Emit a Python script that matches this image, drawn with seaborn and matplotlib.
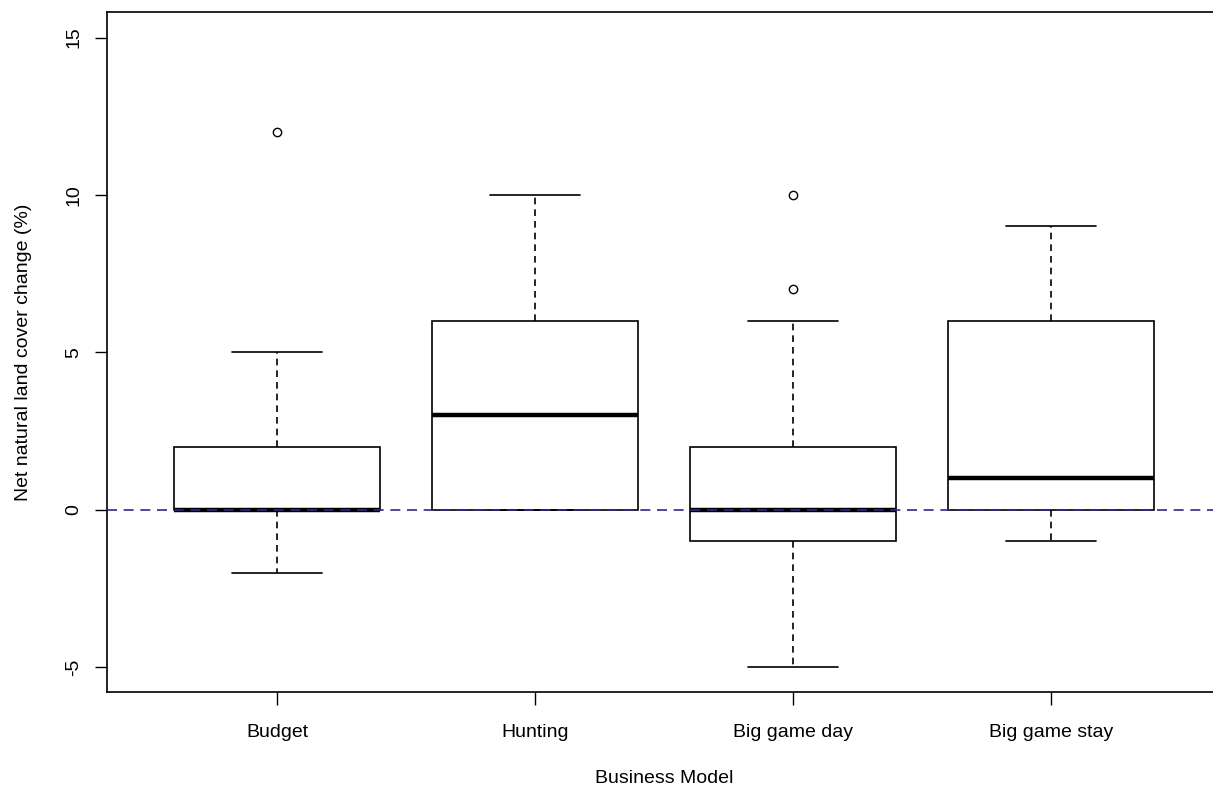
import numpy as np
import pandas as pd
import matplotlib
matplotlib.use("Agg")
from matplotlib import pyplot as plt
import seaborn as sns

# observations per business model, chosen to reproduce the box statistics
budget = [-2, 0, 0, 0, 0, 2, 2, 5, 12]
hunting = [0, 0, 0, 3, 3, 6, 6, 8, 10]
big_game_day = [-5, -2, -1, -1, 0, 0, 0, 1, 2, 2, 6, 7, 10]
big_game_stay = [-1, 0, 0, 1, 1, 3, 6, 7, 9]

categories = ["Budget", "Hunting", "Big game day", "Big game stay"]
y_ticks = [-5, 0, 5, 10, 15]

df = pd.concat([
    pd.DataFrame({"model": name, "change": vals})
    for name, vals in zip(categories, [budget, hunting, big_game_day, big_game_stay])
], ignore_index=True)

sns.set_style("white")
plt.rcParams["font.family"] = ["Liberation Sans", "DejaVu Sans"]

fig = plt.figure(figsize=(12.13, 7.89), dpi=100)
ax = fig.add_axes([107 / 1213, 1 - 692 / 789, (1221 - 107) / 1213, (692 - 12) / 789])

box_width = 0.8
sns.boxplot(
    data=df, x="model", y="change", order=categories, ax=ax,
    width=box_width, color="white", linecolor="black", linewidth=1.2,
    whis=1.5,
    medianprops={"color": "black", "linewidth": 3.2},
    whiskerprops={"linestyle": (0, (4, 3)), "color": "black"},
    capprops={"color": "black"},
    flierprops={"marker": "o", "markersize": 6, "markerfacecolor": "none",
                "markeredgecolor": "black", "markeredgewidth": 1.0},
)

# R-style staples: shorter than seaborn's default caps
for line in ax.lines:
    xd = np.asarray(line.get_xdata(), dtype=float)
    yd = np.asarray(line.get_ydata(), dtype=float)
    if len(xd) == 2 and yd[0] == yd[1] and abs((xd[1] - xd[0]) - box_width / 2) < 1e-6:
        c = xd.mean()
        line.set_xdata([c - 0.175, c + 0.175])

ax.axhline(0, color="#2a2a90", linestyle=(0, (6, 4)), linewidth=1.2, zorder=5)

ax.set_xlim(-0.66, 3.66)
ax.set_ylim(-5.78, 15.81)
ax.set_yticks(y_ticks)
ax.set_yticklabels([str(t) for t in y_ticks], rotation=90, va="center")
ax.tick_params(axis="both", direction="out", length=9, width=1, colors="black",
               labelsize=14, left=True, bottom=True)
ax.tick_params(axis="y", pad=9)
ax.tick_params(axis="x", pad=14)
for s in ax.spines.values():
    s.set_color("black")
    s.set_linewidth(1.2)

ax.set_xlabel("Business Model", fontsize=14, labelpad=21, color="black")
ax.set_ylabel("Net natural land cover change (%)", fontsize=14, labelpad=24, color="black")

plt.savefig("out.png", dpi=100)
plt.close()
